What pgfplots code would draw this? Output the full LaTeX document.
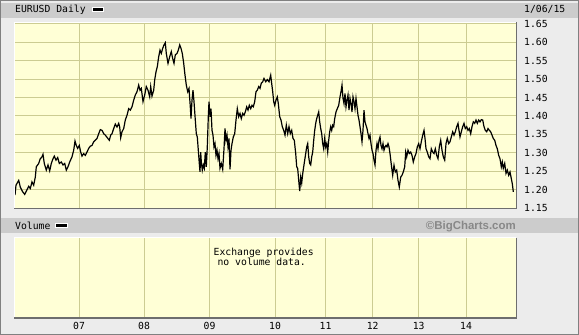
\documentclass[border=0pt]{standalone}
\usepackage{pgfplots}
\pgfplotsset{compat=1.18}
\usepackage{fontspec}
\newfontfamily\mono{DejaVu Sans Mono}
\newfontfamily\bsans{Liberation Sans}
\definecolor{pagebg}{RGB}{236,236,236}
\definecolor{bandgray}{RGB}{204,204,204}
\definecolor{plotbg}{RGB}{255,255,214}
\definecolor{gridc}{RGB}{204,204,146}
\definecolor{edgegray}{RGB}{110,110,110}
\definecolor{bordergray}{RGB}{128,128,128}
\definecolor{copyc}{RGB}{136,136,136}
\newcommand{\mf}{\fontsize{9.8}{10}\selectfont\mono}
\pgfplotstableread{
x y
15.0 1.185
16 1.212
18.7 1.225
20.3 1.207
22.7 1.194
24.7 1.187
26.7 1.198
28.7 1.209
30.3 1.203
32 1.221
33.7 1.212
35.3 1.234
36.3 1.262
38.7 1.271
40.3 1.284
42 1.289
43 1.296
44.3 1.271
46.3 1.253
48 1.267
49.7 1.251
51.3 1.271
53 1.284
54.3 1.291
56 1.280
57.7 1.287
59.3 1.271
61.3 1.275
63 1.267
64.7 1.271
66.3 1.253
68 1.262
69.7 1.275
72 1.289
73.7 1.307
75 1.332
76.3 1.320
77.7 1.312
79.3 1.320
80.7 1.302
82 1.291
83.7 1.298
85.3 1.293
87 1.302
88.7 1.312
90.3 1.318
92 1.320
93.7 1.330
95.3 1.334
97 1.339
98.7 1.352
100.3 1.363
102 1.361
103.7 1.352
105.3 1.348
107.3 1.341
109.3 1.334
110.7 1.348
112 1.352
113.7 1.366
115.3 1.378
117 1.370
118.7 1.380
119.7 1.370
120.7 1.341
122 1.357
123.7 1.366
125.3 1.389
127 1.402
128.7 1.420
130.3 1.416
132 1.425
133.7 1.443
135.3 1.457
137 1.466
138.7 1.484
140 1.470
141.3 1.475
143 1.439
144.7 1.457
146.3 1.480
148 1.470
149.7 1.452
150.7 1.480
152 1.454
153.7 1.470
154.7 1.498
156 1.520
157.3 1.534
158.7 1.561
160 1.579
161.3 1.570
162.7 1.584
164 1.593
165.3 1.599
166.3 1.570
168 1.543
169.7 1.561
171.3 1.575
172.7 1.556
174 1.543
175.3 1.566
177 1.570
178.3 1.579
179.7 1.593
181 1.584
182.3 1.570
183.7 1.543
185 1.511
186.3 1.484
187.7 1.466
189 1.475
190.3 1.425
191 1.393
192 1.443
193 1.470
194 1.439
195.3 1.389
196.3 1.352
197.3 1.343
198.3 1.307
199.3 1.271
200 1.248
200.7 1.302
201.3 1.275
202.3 1.253
203.3 1.267
204.3 1.258
205.3 1.302
206.3 1.262
207.3 1.316
208.3 1.398
209 1.439
210 1.398
211 1.420
212 1.361
213 1.348
214 1.316
215 1.325
216 1.293
217 1.307
218 1.284
219 1.298
220 1.258
221.3 1.271
222.7 1.255
224 1.311
225 1.366
226 1.334
227 1.348
228 1.316
229 1.339
230 1.255
231 1.307
232 1.325
233.3 1.343
234.7 1.352
236 1.389
237.3 1.420
238.7 1.398
240 1.407
241.3 1.393
242.7 1.407
244 1.402
245.3 1.411
246.7 1.425
248 1.416
249.3 1.429
250.7 1.420
252 1.429
253.3 1.425
254.7 1.439
256 1.466
257.3 1.470
258.7 1.480
260 1.475
261.3 1.489
262.7 1.493
264 1.502
265.7 1.493
267.3 1.499
269 1.493
270.7 1.511
271.7 1.488
272.7 1.466
273.7 1.439
274.7 1.429
276 1.443
277.3 1.452
278.3 1.434
279.7 1.398
281 1.389
282.3 1.371
283.7 1.361
285 1.348
286.3 1.375
287.7 1.352
289 1.371
290.3 1.352
291.7 1.361
293 1.339
294.3 1.334
295.7 1.298
296.7 1.262
297.7 1.257
298.7 1.225
299.7 1.196
300.7 1.234
301.7 1.218
302.7 1.243
303.7 1.262
304.7 1.280
305.7 1.298
306.7 1.316
307.7 1.325
308.7 1.289
309.7 1.271
310.7 1.267
311.7 1.289
312.7 1.302
313.7 1.334
314.7 1.361
315.7 1.380
316.7 1.393
317.7 1.402
318.7 1.411
319.7 1.384
320.7 1.366
321.7 1.352
322.7 1.325
323.7 1.311
324.7 1.339
325.7 1.316
326.7 1.325
327.7 1.302
328.7 1.334
329.7 1.357
330.7 1.371
331.7 1.361
332.7 1.375
333.7 1.371
334.7 1.393
336 1.411
337.3 1.420
338.7 1.429
340 1.452
341 1.466
342 1.484
343 1.448
344 1.434
345 1.461
346 1.425
347 1.443
348 1.457
349 1.416
350 1.448
351 1.434
352 1.411
353 1.452
354 1.439
355 1.420
356 1.448
357 1.425
358 1.402
359 1.389
360 1.371
361 1.352
362 1.330
363 1.361
364 1.416
365 1.384
366 1.375
367 1.366
368 1.352
369 1.339
370 1.348
371 1.325
372 1.307
373 1.298
374 1.280
375 1.267
376 1.307
377 1.325
378 1.311
379 1.334
380 1.343
381 1.320
382 1.311
383 1.325
384 1.307
385 1.316
386 1.320
387 1.316
388 1.325
389 1.316
390 1.298
391 1.275
392 1.253
392.7 1.239
394 1.266
395.3 1.248
396.7 1.253
398 1.225
399.3 1.207
400.7 1.234
402 1.239
403.3 1.248
404.7 1.262
405.7 1.302
406.7 1.289
408 1.307
409.3 1.298
410.7 1.302
412 1.293
413.3 1.275
414.7 1.289
416 1.298
417.3 1.316
418.7 1.325
420 1.311
421.3 1.330
422.7 1.348
424 1.361
425 1.339
426 1.311
427.3 1.302
428.7 1.289
430 1.284
431.3 1.311
432.7 1.302
434 1.298
435.3 1.311
436.7 1.293
438 1.284
439.3 1.316
440.7 1.334
442 1.307
443.3 1.289
444.7 1.280
446 1.325
447.3 1.339
448.7 1.325
450 1.330
451.3 1.343
452.7 1.357
454 1.348
455.3 1.357
456.7 1.371
458 1.380
459 1.361
460 1.343
461.3 1.357
462.7 1.371
464 1.380
465.3 1.366
466.7 1.371
468 1.361
469.3 1.366
470.7 1.352
472 1.371
473.3 1.384
474.7 1.380
476 1.389
477.3 1.380
478.7 1.389
480 1.384
481.3 1.390
482.7 1.389
484 1.371
485.3 1.361
486.7 1.357
488 1.366
489.3 1.361
490.7 1.357
492 1.348
493.3 1.339
494.7 1.334
496 1.320
497.3 1.311
498.7 1.293
500 1.284
501.3 1.262
502.3 1.275
503.3 1.258
504.7 1.271
506 1.244
507.3 1.253
508.7 1.239
510 1.248
511.3 1.230
512.3 1.216
513.3 1.194
}\eurusd
\begin{document}
\begin{tikzpicture}
\useasboundingbox (0,0) rectangle (579bp,-335bp);
\begin{scope}[x=1bp,y=-1bp]
\fill[pagebg] (0,0) rectangle (579,335);
\fill[bandgray] (1.5,3) rectangle (577.5,17.5);
\fill[bandgray] (1.5,218) rectangle (577.5,233);
\end{scope}
\begin{axis}[
  at={(14.5bp,-208bp)}, anchor=south west,
  scale only axis, width=501.5bp, height=185.3bp,
  xmin=14.5, xmax=516, ymin=1.15, ymax=1.6535,
  axis background/.style={fill=plotbg},
  axis line style={draw=none},
  major tick length=0pt,
  xtick={79,144,209.5,275,325.5,372.7,418.7,466},
  xticklabels={{},{},{},{},{},{},{},{}},
  ytick={1.15,1.2,1.25,1.3,1.35,1.4,1.45,1.5,1.55,1.6,1.65},
  yticklabel pos=right,
  yticklabel style={font=\mf, anchor=west, inner sep=0pt, xshift=8bp},
  grid=major,
  grid style={gridc, line width=1bp},
  /pgf/number format/.cd, fixed, fixed zerofill, precision=2, assume math mode=true
]
\addplot[black, line width=1.2bp] table[x=x,y=y] {\eurusd};
\end{axis}
\begin{axis}[
  at={(14.5bp,-317.3bp)}, anchor=south west,
  scale only axis, width=501.5bp, height=79bp,
  xmin=14.5, xmax=516, ymin=0, ymax=1,
  axis background/.style={fill=plotbg},
  axis line style={draw=none},
  major tick length=0pt,
  xtick={79,144,209.5,275,325.5,372.7,418.7,466},
  xticklabels={07,08,09,10,11,12,13,14},
  xticklabel style={font=\mf, anchor=center, inner sep=0pt, yshift=-8.4bp},
  ytick=\empty,
  xmajorgrids,
  grid style={gridc, line width=1bp}
]
\addplot[draw=none] coordinates {(14.5,0)};
\end{axis}
\begin{scope}[x=1bp,y=-1bp]
% 3D edges of main plot
\draw[white, line width=1bp] (14,208) -- (14,22.2) -- (516,22.2);
\draw[edgegray, line width=1.3bp] (14,208.7) -- (516.6,208.7) -- (516.6,22.2);
% 3D edges of volume plot
\draw[white, line width=1bp] (14,317.3) -- (14,237.8) -- (516,237.8);
\draw[edgegray, line width=1.3bp] (14,318) -- (516.6,318) -- (516.6,237.8);
% outer border
\draw[bordergray, line width=1.5bp] (0.75,0.75) rectangle (578.25,334.25);
% header
\node[anchor=base west, inner sep=0pt] at (15,12.7) {\mf EURUSD Daily};
\filldraw[fill=black, draw=white, line width=1bp] (92.5,7.2) rectangle (103,11.8);
\node[anchor=base west, inner sep=0pt] at (524,12.6) {\mf 1/06/15};
% volume band
\node[anchor=base west, inner sep=0pt] at (15,229) {\mf Volume};
\filldraw[fill=black, draw=white, line width=1bp] (55.7,223) rectangle (67.7,227.8);
\node[anchor=base east, inner sep=0pt, text=copyc] at (516,229.3) {\fontsize{11.5}{12}\selectfont\bsans\bfseries ©BigCharts.com};
% volume text
\node[anchor=base, inner sep=0pt] at (263.7,255) {\mf Exchange provides};
\node[anchor=base, inner sep=0pt] at (261.7,265) {\mf no volume data.};
\end{scope}
\end{tikzpicture}
\end{document}
